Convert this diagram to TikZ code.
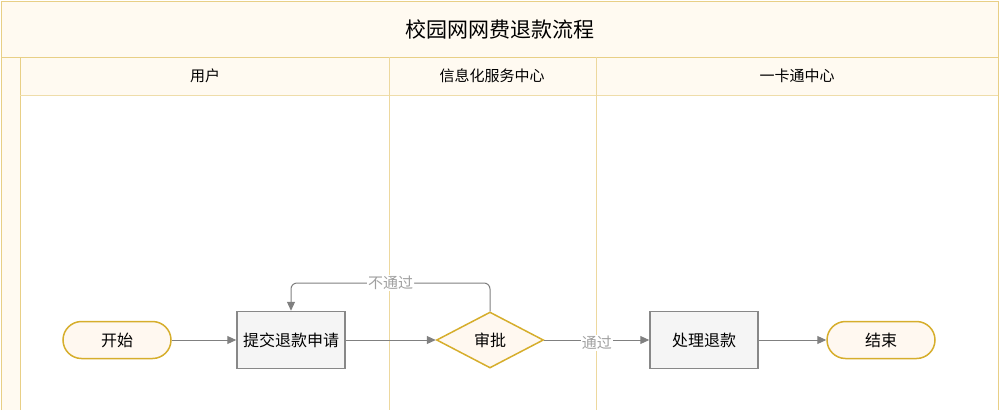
\documentclass[tikz,border=0pt]{standalone}
\usepackage{fontspec}
\setmainfont{Noto Sans CJK SC}
\usetikzlibrary{shapes.geometric}
\usetikzlibrary{arrows.meta}
\definecolor{lanegold}{HTML}{E8CF86}
\definecolor{lanefill}{HTML}{FFFAF1}
\definecolor{boxgray}{HTML}{888888}
\definecolor{boxfill}{HTML}{F5F5F5}
\definecolor{termgold}{HTML}{D6AE2C}
\definecolor{termfill}{HTML}{FFF8F0}
\definecolor{linegray}{HTML}{808080}
\definecolor{labelgray}{HTML}{A0A0A0}
\tikzset{
	terminal/.style={draw=termgold,fill=termfill,line width=1.5pt,rounded corners=18.5pt,
		minimum width=108pt,minimum height=37pt,inner sep=0pt,font=\fontsize{16}{16}\selectfont},
	process/.style={draw=boxgray,fill=boxfill,line width=1.5pt,
		minimum width=108pt,minimum height=57pt,inner sep=0pt,font=\fontsize{16}{16}\selectfont},
	decision/.style={diamond,draw=termgold,fill=termfill,line width=1.5pt,aspect=1.9,
		minimum width=107pt,minimum height=56pt,inner sep=0pt,font=\fontsize{16}{16}\selectfont},
	flow/.style={draw=linegray,line width=1pt,-{Triangle[length=9pt,width=8pt]}},
	flowlabel/.style={fill=white,text=labelgray,inner sep=1pt,font=\fontsize{15}{15}\selectfont},
	lanehead/.style={font=\fontsize{15}{15}\selectfont}
}

\begin{document}
\begin{tikzpicture}[x=1pt,y=-1pt]
	\useasboundingbox (0,0) rectangle (1001,410);
	% pool and lanes
	\fill[lanefill] (1,1) rectangle (998,57);
	\fill[lanefill] (1,57) rectangle (20,410);
	\fill[lanefill] (20,57) rectangle (998,95);
	\draw[lanegold,line width=1pt] (1,410) -- (1,1) -- (998,1) -- (998,410);
	\draw[lanegold,line width=1pt] (1,57) -- (998,57);
	\draw[lanegold,line width=0.8pt] (20,57) -- (20,410);
	\draw[lanegold!70,line width=0.8pt] (20,95) -- (998,95);
	\draw[lanegold!80,line width=0.8pt] (389,57) -- (389,410);
	\draw[lanegold!80,line width=0.8pt] (596,57) -- (596,410);
	\node[font=\fontsize{21}{21}\selectfont] (title) at (500,29) {校园网网费退款流程};
	\node[lanehead] (user) at (205,76) {用户};
	\node[lanehead] (info) at (492,76) {信息化服务中心};
	\node[lanehead] (card) at (797,76) {一卡通中心};
	% steps
	\node[terminal] (start) at (117,340) {开始};
	\node[process] (apply) at (291,340) {提交退款申请};
	\node[decision] (check) at (490,340) {审批};
	\node[process] (refund) at (704,340) {处理退款};
	\node[terminal] (stop) at (881,340) {结束};
	% connectors
	\draw[flow] (start) -- (apply);
	\draw[flow] (apply) -- (check);
	\draw[flow,rounded corners=6pt] (check.north) -- (490,283) -- node[flowlabel,pos=0.5]{不通过} (291,283) -- (apply.north);
	\draw[flow] (check) -- node[flowlabel,pos=0.5,yshift=-3pt]{通过} (refund);
	\draw[flow] (refund) -- (stop);
\end{tikzpicture}
\end{document}
